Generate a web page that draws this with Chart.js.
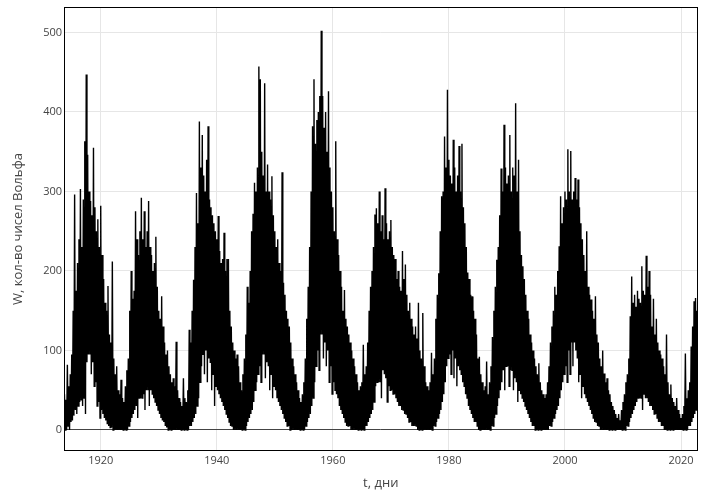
<!DOCTYPE html>
<html>
<head>
<meta charset="utf-8">
<script src="https://cdn.jsdelivr.net/npm/chart.js"></script>
<style>
  html, body { margin: 0; padding: 0; background: #fff; }
  canvas { display: block; }
</style>
</head>
<body>
<canvas id="wolfChart" width="702" height="494"></canvas>
<script>
// daily Wolf number
const startYear = 1913.75;
const stepYears = 0.25;

// top of the daily spikes, one value per quarter year
const upper = [
  /*1913*/ 45,
  /*1914*/ 38, 82, 55, 70,
  /*1915*/ 95, 150, 296, 175,
  /*1916*/ 210, 240, 303, 230,
  /*1917*/ 290, 363, 447, 346,
  /*1918*/ 300, 288, 270, 355,
  /*1919*/ 280, 250, 265, 230,
  /*1920*/ 282, 220, 190, 160,
  /*1921*/ 150, 181, 120, 110,
  /*1922*/ 212, 90, 70, 80,
  /*1923*/ 50, 45, 63, 40,
  /*1924*/ 35, 55, 75, 90,
  /*1925*/ 150, 200, 165, 175,
  /*1926*/ 275, 240, 220, 250,
  /*1927*/ 292, 240, 275, 230,
  /*1928*/ 250, 288, 230, 220,
  /*1929*/ 200, 210, 243, 180,
  /*1930*/ 150, 140, 168, 130,
  /*1931*/ 110, 95, 100, 80,
  /*1932*/ 70, 60, 65, 55,
  /*1933*/ 111, 50, 40, 35,
  /*1934*/ 30, 65, 40, 35,
  /*1935*/ 50, 126, 110, 150,
  /*1936*/ 189, 230, 298, 260,
  /*1937*/ 388, 330, 371, 320,
  /*1938*/ 300, 340, 382, 290,
  /*1939*/ 280, 270, 260, 250,
  /*1940*/ 240, 269, 225, 210,
  /*1941*/ 215, 248, 200, 215,
  /*1942*/ 215, 150, 130, 110,
  /*1943*/ 100, 90, 95, 80,
  /*1944*/ 60, 50, 70, 90,
  /*1945*/ 120, 180, 160, 200,
  /*1946*/ 250, 272, 311, 300,
  /*1947*/ 330, 457, 441, 350,
  /*1948*/ 320, 436, 300, 334,
  /*1949*/ 300, 290, 319, 270,
  /*1950*/ 250, 230, 240, 210,
  /*1951*/ 200, 324, 185, 170,
  /*1952*/ 150, 140, 130, 110,
  /*1953*/ 90, 80, 70, 60,
  /*1954*/ 50, 40, 35, 45,
  /*1955*/ 60, 90, 140, 180,
  /*1956*/ 230, 300, 382, 441,
  /*1957*/ 360, 390, 400, 420,
  /*1958*/ 502, 420, 380, 400,
  /*1959*/ 350, 426, 330, 300,
  /*1960*/ 280, 250, 363, 240,
  /*1961*/ 220, 200, 180, 150,
  /*1962*/ 176, 140, 130, 120,
  /*1963*/ 110, 100, 90, 80,
  /*1964*/ 70, 60, 50, 55,
  /*1965*/ 60, 107, 70, 80,
  /*1966*/ 110, 150, 180, 200,
  /*1967*/ 230, 271, 279, 260,
  /*1968*/ 300, 250, 270, 240,
  /*1969*/ 304, 260, 240, 250,
  /*1970*/ 264, 230, 220, 215,
  /*1971*/ 190, 200, 180, 175,
  /*1972*/ 225, 190, 208, 170,
  /*1973*/ 150, 160, 140, 130,
  /*1974*/ 120, 130, 115, 160,
  /*1975*/ 100, 90, 147, 80,
  /*1976*/ 60, 55, 50, 60,
  /*1977*/ 97, 70, 90, 140,
  /*1978*/ 170, 197, 250, 294,
  /*1979*/ 300, 369, 330, 428,
  /*1980*/ 340, 320, 310, 365,
  /*1981*/ 330, 300, 320, 357,
  /*1982*/ 300, 360, 280, 260,
  /*1983*/ 230, 198, 190, 170,
  /*1984*/ 168, 150, 140, 120,
  /*1985*/ 90, 92, 70, 60,
  /*1986*/ 50, 55, 86, 45,
  /*1987*/ 60, 80, 117, 150,
  /*1988*/ 180, 214, 230, 270,
  /*1989*/ 329, 300, 384, 330,
  /*1990*/ 310, 320, 371, 300,
  /*1991*/ 330, 320, 411, 300,
  /*1992*/ 340, 250, 220, 206,
  /*1993*/ 190, 170, 150, 140,
  /*1994*/ 120, 110, 100, 90,
  /*1995*/ 80, 70, 84, 60,
  /*1996*/ 50, 45, 40, 45,
  /*1997*/ 60, 80, 110, 130,
  /*1998*/ 150, 180, 170, 200,
  /*1999*/ 231, 294, 260, 280,
  /*2000*/ 300, 290, 353, 300,
  /*2001*/ 351, 290, 300, 317,
  /*2002*/ 290, 315, 280, 260,
  /*2003*/ 240, 220, 200, 250,
  /*2004*/ 180, 170, 164, 150,
  /*2005*/ 140, 168, 120, 110,
  /*2006*/ 90, 80, 100, 71,
  /*2007*/ 60, 65, 50, 45,
  /*2008*/ 35, 30, 25, 20,
  /*2009*/ 15, 20, 12, 25,
  /*2010*/ 35, 45, 60, 70,
  /*2011*/ 90, 143, 193, 160,
  /*2012*/ 170, 155, 175, 165,
  /*2013*/ 160, 206, 175, 170,
  /*2014*/ 219, 180, 200, 170,
  /*2015*/ 130, 165, 120, 140,
  /*2016*/ 110, 100, 95, 90,
  /*2017*/ 80, 70, 120, 60,
  /*2018*/ 45, 57, 40, 35,
  /*2019*/ 30, 40, 25, 20,
  /*2020*/ 15, 20, 30, 96,
  /*2021*/ 40, 50, 60, 105,
  /*2022*/ 130, 162, 166, 150
];

// bottom of the daily values, same quarters
const lower = [
  /*1913*/ 0,
  /*1914*/ 0, 5, 0, 10,
  /*1915*/ 12, 18, 25, 20,
  /*1916*/ 30, 35, 38, 30,
  /*1917*/ 40, 20, 85, 95,
  /*1918*/ 95, 70, 85, 55,
  /*1919*/ 60, 30, 35, 15,
  /*1920*/ 25, 20, 15, 12,
  /*1921*/ 8, 5, 3, 3,
  /*1922*/ 0, 0, 0, 0,
  /*1923*/ 0, 0, 0, 0,
  /*1924*/ 0, 0, 0, 5,
  /*1925*/ 10, 15, 20, 25,
  /*1926*/ 30, 15, 40, 40,
  /*1927*/ 40, 45, 25, 50,
  /*1928*/ 50, 30, 50, 45,
  /*1929*/ 40, 35, 30, 25,
  /*1930*/ 20, 15, 12, 10,
  /*1931*/ 5, 3, 0, 0,
  /*1932*/ 0, 0, 0, 0,
  /*1933*/ 0, 0, 0, 0,
  /*1934*/ 0, 0, 0, 0,
  /*1935*/ 0, 5, 5, 10,
  /*1936*/ 15, 20, 30, 40,
  /*1937*/ 60, 80, 95, 70,
  /*1938*/ 100, 60, 90, 85,
  /*1939*/ 50, 70, 30, 55,
  /*1940*/ 50, 45, 40, 35,
  /*1941*/ 30, 25, 20, 15,
  /*1942*/ 10, 5, 5, 0,
  /*1943*/ 0, 0, 0, 0,
  /*1944*/ 0, 0, 0, 0,
  /*1945*/ 5, 10, 15, 20,
  /*1946*/ 25, 35, 50, 60,
  /*1947*/ 70, 80, 60, 95,
  /*1948*/ 95, 65, 85, 80,
  /*1949*/ 50, 70, 40, 55,
  /*1950*/ 50, 40, 35, 30,
  /*1951*/ 25, 20, 15, 10,
  /*1952*/ 5, 5, 0, 0,
  /*1953*/ 0, 0, 0, 0,
  /*1954*/ 0, 0, 0, 0,
  /*1955*/ 0, 5, 10, 15,
  /*1956*/ 20, 30, 40, 60,
  /*1957*/ 80, 100, 75, 120,
  /*1958*/ 120, 90, 110, 80,
  /*1959*/ 100, 60, 80, 45,
  /*1960*/ 60, 50, 45, 40,
  /*1961*/ 30, 25, 20, 15,
  /*1962*/ 10, 5, 5, 5,
  /*1963*/ 0, 0, 0, 0,
  /*1964*/ 0, 0, 0, 0,
  /*1965*/ 0, 0, 5, 5,
  /*1966*/ 10, 15, 20, 25,
  /*1967*/ 35, 55, 60, 60,
  /*1968*/ 60, 40, 75, 70,
  /*1969*/ 65, 35, 55, 50,
  /*1970*/ 50, 45, 45, 40,
  /*1971*/ 35, 30, 30, 25,
  /*1972*/ 25, 20, 20, 15,
  /*1973*/ 10, 10, 5, 5,
  /*1974*/ 5, 5, 0, 0,
  /*1975*/ 0, 0, 0, 0,
  /*1976*/ 0, 0, 0, 0,
  /*1977*/ 0, 5, 5, 10,
  /*1978*/ 15, 20, 25, 35,
  /*1979*/ 45, 60, 80, 90,
  /*1980*/ 95, 70, 100, 65,
  /*1981*/ 90, 55, 80, 75,
  /*1982*/ 70, 60, 55, 45,
  /*1983*/ 40, 30, 25, 20,
  /*1984*/ 15, 10, 10, 5,
  /*1985*/ 0, 0, 0, 0,
  /*1986*/ 0, 0, 0, 0,
  /*1987*/ 0, 5, 5, 15,
  /*1988*/ 20, 30, 40, 50,
  /*1989*/ 60, 75, 50, 80,
  /*1990*/ 80, 55, 75, 75,
  /*1991*/ 50, 65, 60, 35,
  /*1992*/ 50, 45, 40, 35,
  /*1993*/ 30, 25, 20, 15,
  /*1994*/ 10, 5, 5, 0,
  /*1995*/ 0, 0, 0, 0,
  /*1996*/ 0, 0, 0, 0,
  /*1997*/ 0, 5, 5, 10,
  /*1998*/ 15, 20, 25, 30,
  /*1999*/ 40, 50, 60, 70,
  /*2000*/ 80, 60, 100, 70,
  /*2001*/ 110, 80, 110, 100,
  /*2002*/ 90, 60, 70, 40,
  /*2003*/ 55, 45, 40, 35,
  /*2004*/ 30, 25, 20, 15,
  /*2005*/ 10, 10, 5, 5,
  /*2006*/ 0, 0, 0, 0,
  /*2007*/ 0, 0, 0, 0,
  /*2008*/ 0, 0, 0, 0,
  /*2009*/ 0, 0, 0, 0,
  /*2010*/ 0, 0, 5, 5,
  /*2011*/ 10, 15, 20, 25,
  /*2012*/ 30, 35, 40, 40,
  /*2013*/ 40, 25, 45, 40,
  /*2014*/ 40, 35, 30, 30,
  /*2015*/ 25, 20, 20, 15,
  /*2016*/ 10, 10, 5, 5,
  /*2017*/ 0, 0, 0, 0,
  /*2018*/ 0, 0, 0, 0,
  /*2019*/ 0, 0, 0, 0,
  /*2020*/ 0, 0, 0, 0,
  /*2021*/ 0, 5, 5, 10,
  /*2022*/ 15, 20, 25, 30
];

const xTicks = [1920, 1940, 1960, 1980, 2000, 2020];
const yTicks = [0, 100, 200, 300, 400, 500];

// alternate top and bottom so the line fills the band like the daily record
const points = [];
upper.forEach((hi, i) => {
  const t = startYear + i * stepYears;
  points.push({ x: t, y: hi });
  points.push({ x: t + stepYears / 2, y: lower[i] });
});

// black box round the plot area
const frame = {
  id: 'frame',
  afterDraw(chart) {
    const { ctx, chartArea: a } = chart;
    ctx.save();
    ctx.strokeStyle = '#000';
    ctx.lineWidth = 1;
    ctx.strokeRect(Math.round(a.left) + 0.5, Math.round(a.top) + 0.5,
      Math.round(a.right - a.left) - 1, Math.round(a.bottom - a.top) - 1);
    ctx.restore();
  }
};

Chart.defaults.font.family = "'Open Sans', sans-serif";
Chart.defaults.color = '#444';

const ctx = document.getElementById('wolfChart').getContext('2d');
new Chart(ctx, {
  type: 'line',
  data: {
    datasets: [{
      data: points,
      borderColor: '#000',
      borderWidth: 1.4,
      pointRadius: 0,
      tension: 0,
      fill: false
    }]
  },
  options: {
    responsive: false,
    animation: false,
    parsing: false,
    normalized: true,
    layout: { padding: { top: 7, right: 4.5, left: 0, bottom: 0 } },
    plugins: {
      legend: { display: false },
      tooltip: { enabled: false }
    },
    scales: {
      x: {
        type: 'linear',
        min: 1913.67,
        max: 2022.84,
        afterBuildTicks: s => { s.ticks = xTicks.map(v => ({ value: v })); },
        afterFit: s => { s.height = 43; s.paddingLeft = 0; s.paddingRight = 0; },
        border: { display: false },
        grid: { color: '#e6e6e6', drawTicks: false },
        ticks: {
          padding: 3,
          maxRotation: 0,
          autoSkip: false,
          font: { size: 11 },
          callback: v => String(v)
        },
        title: {
          display: true,
          text: 't, дни',
          font: { size: 13 },
          padding: { top: 0, bottom: 3 }
        }
      },
      y: {
        min: -26.5,
        max: 532,
        afterBuildTicks: s => { s.ticks = yTicks.map(v => ({ value: v })); },
        afterFit: s => { s.width = 64; s.paddingTop = 0; s.paddingBottom = 0; },
        border: { display: false },
        grid: {
          drawTicks: false,
          color: c => (c.tick && c.tick.value === 0 ? '#444' : '#e6e6e6')
        },
        ticks: {
          padding: 2,
          font: { size: 11 },
          callback: v => String(v)
        },
        title: {
          display: true,
          text: 'W, кол-во чисел Вольфа',
          font: { size: 13 },
          padding: { top: 10, bottom: 0 }
        }
      }
    }
  },
  plugins: [frame]
});
</script>
</body>
</html>
